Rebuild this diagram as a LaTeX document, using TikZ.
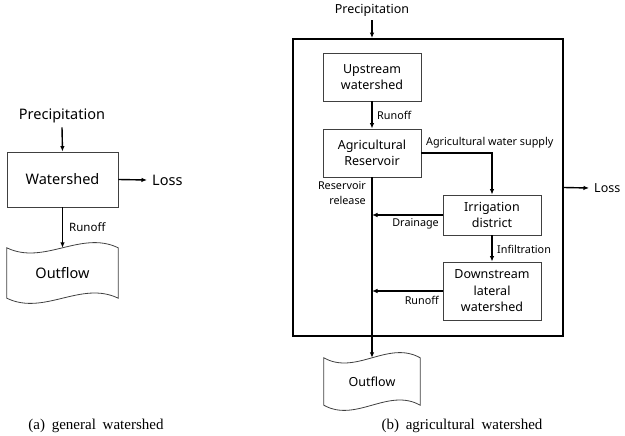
\documentclass[tikz,border=0pt]{standalone}
\usepackage{fontspec}
\setmainfont{Noto Sans}
\newfontfamily\capfont{Liberation Serif}
\usetikzlibrary{calc,arrows.meta}

\tikzset{
  flow/.style={draw=black, line width=1.4pt, -{Latex[length=5.5pt,width=4.5pt]}},
  box/.style={draw=black!75, line width=0.8pt, rectangle, align=center, inner sep=0pt},
  tapeline/.style={draw=black!75, line width=0.8pt},
  bigtext/.style={inner sep=4pt, font=\fontsize{14.5}{17}\selectfont},
  midtext/.style={inner sep=4pt, font=\fontsize{12.5}{16}\selectfont},
  lbl/.style={inner sep=0pt, font=\fontsize{10.8}{15}\selectfont},
  captext/.style={inner sep=0pt, font={\capfont\fontsize{15}{17}\selectfont}}
}

\newcommand{\tapeoutline}[1]{%
  \draw [tapeline] (#1.north west)
    .. controls ($(#1.north west)!0.333!(#1.north east)+(0,18)$)
    and ($(#1.north west)!0.667!(#1.north east)+(0,-18)$) .. (#1.north east)
    -- (#1.south east)
    .. controls ($(#1.south west)!0.667!(#1.south east)+(0,-18)$)
    and ($(#1.south west)!0.333!(#1.south east)+(0,18)$) .. (#1.south west)
    -- cycle;}

\begin{document}
\begin{tikzpicture}[x=1pt,y=-1pt]
\useasboundingbox (0,0) rectangle (625,436);

\node [bigtext] (precipA) at (62,116) {Precipitation};
\node [box, minimum width=111pt, minimum height=55pt, font=\fontsize{14.5}{17}\selectfont] (shedA) at (62.5,179.5) {Watershed};
\node [bigtext, anchor=west, inner sep=5pt] (lossA) at (147,180) {Loss};
\node [inner sep=0pt, minimum width=111pt, minimum height=50pt, font=\fontsize{14.5}{17}\selectfont] (outA) at (62.5,273) {Outflow};
\tapeoutline{outA}
\draw [flow] (precipA.south) -- (shedA.north);
\draw [flow] (shedA.east) -- (lossA.west);
\draw [flow] (shedA.south) -- (outA.north);
\node [lbl, anchor=west, font=\fontsize{11.5}{14}\selectfont] (runoffA) at (69,227) {Runoff};

\node [midtext] (precipB) at (372,10) {Precipitation};
\node [draw=black, line width=1.8pt, minimum width=270pt, minimum height=297pt, inner sep=0pt] (basin) at (428,187.5) {};
\node [box, minimum width=98pt, minimum height=48pt, font=\fontsize{12.5}{16}\selectfont] (upstream) at (372,77) {Upstream\\watershed};
\node [box, minimum width=98pt, minimum height=48pt, font=\fontsize{12.5}{16}\selectfont] (reservoir) at (372,153) {Agricultural\\Reservoir};
\node [box, minimum width=98pt, minimum height=40pt, font=\fontsize{12.5}{16}\selectfont] (irrigation) at (492,215) {Irrigation\\district};
\node [box, minimum width=98pt, minimum height=58pt, font=\fontsize{12.5}{16.5}\selectfont] (downstream) at (492,291) {Downstream\\lateral\\watershed};
\node [inner sep=0pt, minimum width=96pt, minimum height=47pt, font=\fontsize{12.5}{16}\selectfont] (outB) at (372,381.5) {Outflow};
\tapeoutline{outB}
\node [midtext, anchor=west, inner sep=5pt] (lossB) at (589,188) {Loss};

\draw [flow] (precipB.south) -- (precipB.south |- basin.north);
\draw [flow] (upstream.south) -- (reservoir.north);
\draw [flow] (reservoir.east) -| (irrigation.north);
\draw [flow] (reservoir.south) -- (outB.north);
\draw [flow] (irrigation.west) -- (irrigation.west -| reservoir.south);
\draw [flow] (irrigation.south) -- (downstream.north);
\draw [flow] (downstream.west) -- (downstream.west -| reservoir.south);
\draw [flow] (basin.east) -- (lossB.west);

\node [lbl, anchor=west] (runoffB) at (377,115) {Runoff};
\node [lbl, anchor=west] (supply) at (426,143) {Agricultural water supply};
\node [lbl, anchor=east, align=right] (release) at (366,193) {Reservoir\\release};
\node [lbl, anchor=east] (drainage) at (439,224) {Drainage};
\node [lbl, anchor=west] (infiltration) at (497,249) {Infiltration};
\node [lbl, anchor=east] (runoffC) at (439,300) {Runoff};

\node [captext] (capA) at (96,426) {(a)\hspace{0.45em}general\hspace{0.45em}watershed};
\node [captext] (capB) at (462,426) {(b)\hspace{0.45em}agricultural\hspace{0.45em}watershed};
\end{tikzpicture}
\end{document}
